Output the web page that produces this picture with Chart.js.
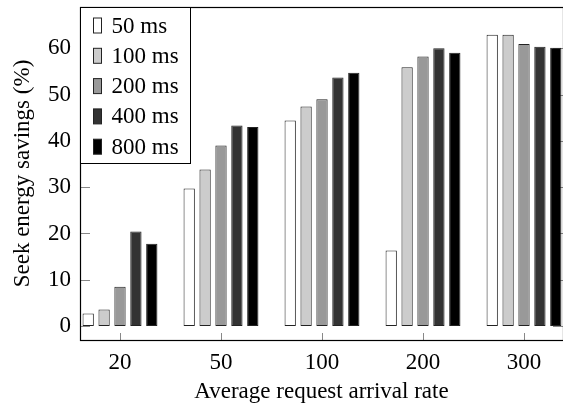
<!DOCTYPE html>
<html>
<head>
<meta charset="utf-8">
<script src="https://cdn.jsdelivr.net/npm/chart.js@4.4.1/dist/chart.umd.min.js"></script>
<style>
html,body{margin:0;padding:0;background:#fff;overflow:hidden;}
#wrap{width:563px;height:406px;position:relative;}
</style>
</head>
<body>
<div id="wrap"><canvas id="c" width="563" height="406"></canvas></div>
<script>
const categories = ["20", "50", "100", "200", "300"];
const seriesLabels = ["50 ms", "100 ms", "200 ms", "400 ms", "800 ms"];
const series50  = [2.7, 29.7, 44.4, 16.3, 62.9];
const series100 = [3.6, 33.8, 47.4, 55.9, 62.9];
const series200 = [8.5, 39.0, 49.0, 58.2, 60.9];
const series400 = [20.4, 43.3, 53.7, 60.0, 60.3];
const series800 = [17.8, 43.0, 54.7, 59.0, 60.1];
const yTicks = [0, 10, 20, 30, 40, 50, 60];

const allSeries = [series50, series100, series200, series400, series800];
const fills = ["#ffffff", "#cccccc", "#999999", "#333333", "#000000"];
const FONT = "'Liberation Serif', 'Times New Roman', serif";
const FS = 23;

const datasets = allSeries.map((s, i) => ({
  label: seriesLabels[i],
  data: s.map((v, j) => ({x: j, y: v})),
  backgroundColor: fills[i],
  borderColor: "#222222",
  borderWidth: 1,
  borderSkipped: false,
  categoryPercentage: 0.787,
  barPercentage: 0.71
}));

const framePlugin = {
  id: "frame",
  beforeDatasetsDraw(chart) {
    const {ctx, chartArea: a, scales} = chart;
    ctx.save();
    ctx.strokeStyle = "#888888";
    ctx.lineWidth = 1;
    yTicks.forEach(v => {
      const y = Math.round(scales.y.getPixelForValue(v)) + 0.5;
      ctx.beginPath();
      ctx.moveTo(a.left, y); ctx.lineTo(a.left + 10, y);
      ctx.moveTo(a.right, y); ctx.lineTo(a.right - 10, y);
      ctx.stroke();
    });
    categories.forEach((c, i) => {
      const x = Math.round(scales.x.getPixelForValue(i)) + 0.5;
      ctx.beginPath();
      ctx.moveTo(x, a.bottom); ctx.lineTo(x, a.bottom - 7);
      ctx.stroke();
    });
    ctx.restore();
  },
  afterDatasetsDraw(chart) {
    const {ctx, chartArea: a} = chart;
    ctx.save();
    ctx.strokeStyle = "#000000";
    ctx.lineWidth = 1.2;
    ctx.strokeRect(Math.round(a.left) + 0.5, Math.round(a.top) + 0.5,
                   Math.round(a.right - a.left), Math.round(a.bottom - a.top));
    ctx.restore();
  },
  afterDraw(chart) {
    const {ctx, chartArea: a} = chart;
    const bx = Math.round(a.left) + 0.5, by = Math.round(a.top) + 0.5;
    const bw = 110, bh = 156;
    ctx.save();
    ctx.fillStyle = "#ffffff";
    ctx.fillRect(bx, by, bw, bh);
    ctx.strokeStyle = "#000000";
    ctx.lineWidth = 1;
    ctx.strokeRect(bx, by, bw, bh);
    ctx.font = FS + "px " + FONT;
    ctx.textBaseline = "middle";
    ctx.textAlign = "left";
    chart.data.datasets.forEach((ds, i) => {
      const cy = by + 18 + i * 30.3;
      ctx.fillStyle = ds.backgroundColor;
      ctx.fillRect(bx + 13, cy - 7.5, 8, 15);
      ctx.strokeStyle = "#222222";
      ctx.strokeRect(bx + 13, cy - 7.5, 8, 15);
      ctx.fillStyle = "#000000";
      ctx.fillText(ds.label, bx + 31, cy + 1);
    });
    ctx.restore();
  }
};

new Chart(document.getElementById("c"), {
  type: "bar",
  data: {datasets},
  plugins: [framePlugin],
  options: {
    responsive: false,
    animation: false,
    layout: {padding: {top: 7, right: 0, left: 0, bottom: 0}},
    plugins: {legend: {display: false}, tooltip: {enabled: false}},
    scales: {
      x: {
        type: "linear",
        min: -0.396,
        max: 4.386,
        offset: false,
        grid: {display: false, drawTicks: false},
        border: {display: false},
        afterBuildTicks: s => { s.ticks = categories.map((c, i) => ({value: i})); },
        afterFit: s => { s.height = 66; s.paddingLeft = 0; s.paddingRight = 0; },
        ticks: {
          padding: 9,
          color: "#000",
          font: {family: FONT, size: FS},
          maxRotation: 0,
          autoSkip: false,
          callback: v => categories[v]
        },
        title: {
          display: true,
          text: "Average request arrival rate",
          color: "#000",
          font: {family: FONT, size: FS},
          padding: {top: 2, bottom: 0}
        }
      },
      y: {
        min: -3,
        max: 68.9,
        grid: {display: false, drawTicks: false},
        border: {display: false},
        afterBuildTicks: s => { s.ticks = yTicks.map(v => ({value: v})); },
        afterFit: s => { s.width = 80; s.paddingTop = 0; s.paddingBottom = 0; },
        ticks: {
          padding: 9,
          color: "#000",
          font: {family: FONT, size: FS}
        },
        title: {
          display: true,
          text: "Seek energy savings (%)",
          color: "#000",
          font: {family: FONT, size: FS},
          padding: {top: 9, bottom: 0}
        }
      }
    }
  }
});
</script>
</body>
</html>
